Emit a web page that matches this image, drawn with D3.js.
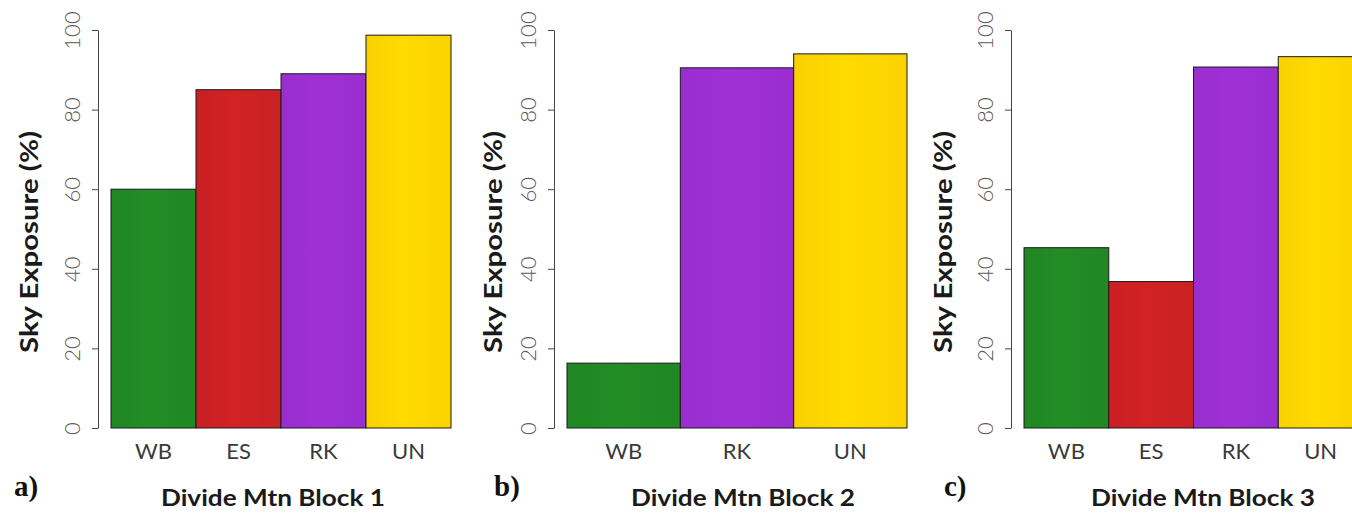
<!DOCTYPE html>
<html>
<head>
<meta charset="utf-8">
<script src="https://cdn.jsdelivr.net/npm/d3@7"></script>
<style>
  html, body { margin: 0; padding: 0; background: #ffffff; }
  svg { display: block; }
</style>
</head>
<body>
<svg id="chart" width="1352" height="514"></svg>
<script>
// Sky exposure (%) by cover class, three Divide Mtn blocks
const block1Categories = ["WB", "ES", "RK", "UN"];
const block1Values = [60, 85, 89, 98.7];

const block2Categories = ["WB", "RK", "UN"];
const block2Values = [16.3, 90.5, 94];

const block3Categories = ["WB", "ES", "RK", "UN"];
const block3Values = [45.3, 36.8, 90.7, 93.3];

const yTicks = [0, 20, 40, 60, 80, 100];
const panelTitles = ["Divide Mtn Block 1", "Divide Mtn Block 2", "Divide Mtn Block 3"];
const panelLetters = ["a)", "b)", "c)"];
const yTitle = "Sky Exposure (%)";

const classColors = { WB: "#218a24", ES: "#cd2124", RK: "#9c2fd3", UN: "#ffd600" };

const svg = d3.select("#chart");

// gradient fills: faint highlight across each bar
const defs = svg.append("defs");
Object.entries(classColors).forEach(([k, c]) => {
  const g = defs.append("linearGradient").attr("id", "grad-" + k)
    .attr("x1", "0").attr("x2", "1").attr("y1", "0").attr("y2", "0");
  const base = d3.color(c);
  g.append("stop").attr("offset", "0%").attr("stop-color", base.darker(0.06));
  g.append("stop").attr("offset", "45%").attr("stop-color", base.brighter(0.05));
  g.append("stop").attr("offset", "100%").attr("stop-color", base.darker(0.04));
});

const panels = [
  { cats: block1Categories, vals: block1Values, x0: 111, x1: 451, titleX: 273, yTitleX: 28, letterX: 14 },
  { cats: block2Categories, vals: block2Values, x0: 567, x1: 907, titleX: 743, yTitleX: 492, letterX: 494 },
  { cats: block3Categories, vals: block3Values, x0: 1024, x1: 1363, titleX: 1203, yTitleX: 942, letterX: 944 }
];

const y = d3.scaleLinear().domain([0, 100]).range([428, 30]);

panels.forEach((p, i) => {
  const g = svg.append("g");
  const x = d3.scaleBand().domain(p.cats).range([p.x0, p.x1]).padding(0);
  const axisX = p.x0 - 13;

  // bars
  g.selectAll("rect.bar").data(p.cats.map((c, j) => ({ c, v: p.vals[j] })))
    .join("rect")
    .attr("class", "bar")
    .attr("x", d => x(d.c))
    .attr("y", d => y(d.v))
    .attr("width", x.bandwidth())
    .attr("height", d => y(0) - y(d.v))
    .attr("fill", d => `url(#grad-${d.c})`)
    .attr("stroke", "#1a1a1a")
    .attr("stroke-width", 1);

  // y axis
  const ax = g.append("g")
    .attr("transform", `translate(${axisX},0)`)
    .call(d3.axisLeft(y).tickValues(yTicks).tickSize(6).tickPadding(12).tickSizeOuter(0));
  ax.select(".domain").attr("stroke", "#444");
  ax.selectAll(".tick line").attr("stroke", "#444");
  ax.selectAll(".tick text")
    .attr("x", -27)
    .attr("y", 0)
    .attr("dy", null)
    .attr("text-anchor", "middle")
    .attr("dominant-baseline", "central")
    .attr("transform", "rotate(-90, -27, 0)")
    .attr("fill", "#5a5a5a")
    .style("font-family", "Lato, 'Open Sans', sans-serif")
    .style("font-weight", "300")
    .style("font-size", "22px");

  // category labels
  g.selectAll("text.cat").data(p.cats).join("text")
    .attr("class", "cat")
    .attr("x", d => x(d) + x.bandwidth() / 2)
    .attr("y", 459)
    .attr("text-anchor", "middle")
    .attr("fill", "#3a3a3a")
    .style("font-family", "Lato, 'Open Sans', sans-serif")
    .style("font-size", "22px")
    .text(d => d);

  // y title
  g.append("text")
    .attr("transform", `translate(${p.yTitleX},242) rotate(-90)`)
    .attr("text-anchor", "middle")
    .attr("dominant-baseline", "central")
    .attr("fill", "#1a1a1a")
    .attr("textLength", 222)
    .attr("lengthAdjust", "spacingAndGlyphs")
    .style("font-family", "Lato, 'Open Sans', sans-serif")
    .style("font-weight", "bold")
    .style("font-size", "25px")
    .text(yTitle);

  // x title
  g.append("text")
    .attr("x", p.titleX)
    .attr("y", 506)
    .attr("text-anchor", "middle")
    .attr("fill", "#1a1a1a")
    .attr("textLength", 224)
    .attr("lengthAdjust", "spacingAndGlyphs")
    .style("font-family", "Lato, 'Open Sans', sans-serif")
    .style("font-weight", "bold")
    .style("font-size", "23px")
    .text(panelTitles[i]);

  // panel letter
  g.append("text")
    .attr("x", p.letterX)
    .attr("y", 496)
    .attr("fill", "#111")
    .style("font-family", "'Liberation Serif', 'DejaVu Serif', serif")
    .style("font-weight", "bold")
    .style("font-size", "29px")
    .text(panelLetters[i]);
});
</script>
</body>
</html>
